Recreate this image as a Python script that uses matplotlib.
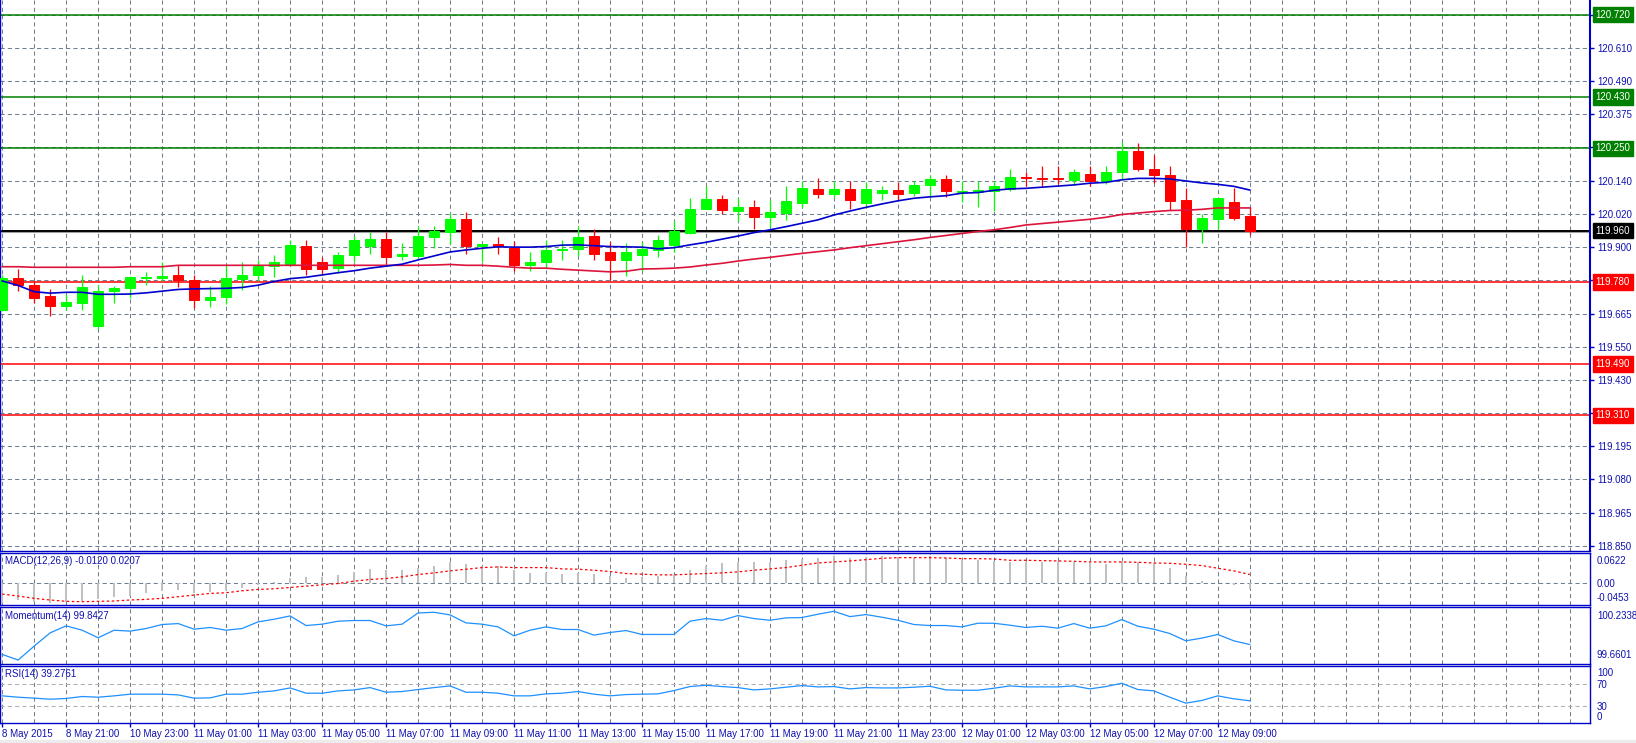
import matplotlib
matplotlib.use("Agg")
import matplotlib.pyplot as plt
from matplotlib.patches import Rectangle
import numpy as np

plt.rcParams['font.family'] = ['Liberation Sans', 'DejaVu Sans']

# ---------------- data ----------------
opens = [119.681, 119.792, 119.769, 119.730, 119.695, 119.707, 119.625, 119.749, 119.758, 119.794,
         119.794, 119.804, 119.787, 119.717, 119.727, 119.790, 119.804, 119.834, 119.839, 119.906,
         119.848, 119.828, 119.875, 119.906, 119.931, 119.872, 119.871, 119.938, 119.957, 120.001,
         119.906, 119.913, 119.900, 119.839, 119.848, 119.892, 119.897, 119.942, 119.885, 119.855,
         119.875, 119.892, 119.910, 119.953, 120.037, 120.072, 120.030, 120.044, 120.009, 120.022,
         120.059, 120.107, 120.089, 120.107, 120.058, 120.094, 120.102, 120.094, 120.119, 120.142,
         120.097, 120.096, 120.101, 120.106, 120.150, 120.147, 120.144, 120.139, 120.160, 120.135,
         120.167, 120.241, 120.177, 120.156, 120.068, 119.966, 120.001, 120.061, 120.012]
highs = [119.804, 119.825, 119.783, 119.755, 119.736, 119.804, 119.769, 119.765, 119.800, 119.816,
         119.849, 119.839, 119.804, 119.765, 119.836, 119.848, 119.857, 119.875, 119.927, 119.927,
         119.869, 119.886, 119.941, 119.957, 119.957, 119.918, 119.978, 119.977, 120.021, 120.025,
         119.914, 119.937, 119.925, 119.885, 119.926, 119.926, 119.977, 119.965, 119.919, 119.918,
         119.920, 119.945, 119.995, 120.074, 120.116, 120.086, 120.074, 120.067, 120.067, 120.117,
         120.135, 120.144, 120.135, 120.135, 120.130, 120.117, 120.130, 120.135, 120.156, 120.156,
         120.135, 120.135, 120.135, 120.177, 120.166, 120.188, 120.189, 120.177, 120.189, 120.188,
         120.271, 120.268, 120.227, 120.188, 120.109, 120.018, 120.075, 120.109, 120.043]
lows = [119.678, 119.749, 119.704, 119.658, 119.679, 119.679, 119.614, 119.707, 119.724, 119.767,
        119.781, 119.760, 119.687, 119.690, 119.701, 119.750, 119.781, 119.797, 119.838, 119.804,
        119.804, 119.810, 119.848, 119.878, 119.843, 119.857, 119.860, 119.900, 119.913, 119.879,
        119.849, 119.879, 119.819, 119.819, 119.830, 119.857, 119.871, 119.857, 119.787, 119.802,
        119.819, 119.869, 119.886, 119.947, 120.036, 120.018, 119.995, 119.966, 119.974, 119.998,
        120.039, 120.076, 120.080, 120.037, 120.045, 120.068, 120.067, 120.082, 120.080, 120.080,
        120.060, 120.045, 120.030, 120.100, 120.118, 120.118, 120.123, 120.119, 120.117, 120.123,
        120.139, 120.171, 120.129, 120.033, 119.902, 119.918, 119.966, 119.998, 119.943]
closes = [119.792, 119.767, 119.724, 119.696, 119.709, 119.762, 119.748, 119.758, 119.797, 119.798,
          119.801, 119.787, 119.717, 119.727, 119.794, 119.804, 119.837, 119.848, 119.910, 119.825,
          119.825, 119.875, 119.927, 119.931, 119.868, 119.879, 119.942, 119.959, 120.001, 119.907,
          119.913, 119.906, 119.839, 119.850, 119.892, 119.897, 119.938, 119.878, 119.855, 119.885,
          119.897, 119.927, 119.959, 120.037, 120.072, 120.033, 120.044, 120.009, 120.026, 120.065,
          120.110, 120.089, 120.107, 120.069, 120.107, 120.102, 120.090, 120.121, 120.142, 120.101,
          120.100, 120.103, 120.117, 120.149, 120.147, 120.143, 120.141, 120.167, 120.135, 120.167,
          120.241, 120.178, 120.156, 120.065, 119.966, 120.005, 120.075, 120.005, 119.960]

ma_fast = [119.783, 119.767, 119.745, 119.740, 119.743, 119.743, 119.736, 119.736, 119.737, 119.741,
           119.747, 119.753, 119.755, 119.756, 119.757, 119.760, 119.768, 119.781, 119.791, 119.796,
           119.804, 119.812, 119.819, 119.828, 119.835, 119.842, 119.857, 119.871, 119.885, 119.892,
           119.898, 119.903, 119.902, 119.902, 119.904, 119.909, 119.910, 119.907, 119.904, 119.903,
           119.902, 119.896, 119.900, 119.910, 119.919, 119.930, 119.941, 119.953, 119.963, 119.974,
           119.986, 119.998, 120.015, 120.029, 120.042, 120.054, 120.065, 120.074, 120.079, 120.083,
           120.092, 120.094, 120.102, 120.107, 120.109, 120.113, 120.117, 120.121, 120.127, 120.130,
           120.139, 120.144, 120.144, 120.142, 120.135, 120.128, 120.123, 120.116, 120.103]
ma_slow = [119.833, 119.833, 119.831, 119.831, 119.831, 119.831, 119.831, 119.831, 119.833, 119.833,
           119.833, 119.838, 119.838, 119.838, 119.838, 119.838, 119.838, 119.838, 119.838, 119.838,
           119.838, 119.838, 119.838, 119.838, 119.838, 119.838, 119.838, 119.839, 119.841, 119.838,
           119.838, 119.835, 119.831, 119.828, 119.828, 119.824, 119.821, 119.818, 119.815, 119.817,
           119.825, 119.826, 119.828, 119.832, 119.839, 119.845, 119.853, 119.860, 119.866, 119.873,
           119.880, 119.886, 119.892, 119.900, 119.907, 119.914, 119.921, 119.928, 119.936, 119.943,
           119.950, 119.957, 119.963, 119.971, 119.980, 119.985, 119.990, 119.995, 120.000, 120.007,
           120.017, 120.022, 120.027, 120.031, 120.032, 120.035, 120.040, 120.040, 120.040]

macd_main = [-0.0453, -0.0381, -0.0420, -0.0442, -0.0427, -0.0412, -0.0366, -0.0320, -0.0282, -0.0214,
             -0.0168, -0.0145, -0.0214, -0.0191, -0.0145, -0.0099, -0.0038, 0.0031, 0.0130, 0.0153,
             0.0153, 0.0198, 0.0259, 0.0328, 0.0305, 0.0305, 0.0366, 0.0412, 0.0488, 0.0458,
             0.0397, 0.0404, 0.0305, 0.0244, 0.0244, 0.0214, 0.0252, 0.0214, 0.0168, 0.0137,
             0.0153, 0.0183, 0.0191, 0.0305, 0.0412, 0.0465, 0.0488, 0.0488, 0.0488, 0.0534,
             0.0564, 0.0595, 0.0622, 0.0595, 0.0610, 0.0622, 0.0610, 0.0595, 0.0622, 0.0580,
             0.0549, 0.0534, 0.0519, 0.0503, 0.0503, 0.0503, 0.0503, 0.0503, 0.0481, 0.0458,
             0.0519, 0.0503, 0.0481, 0.0366, 0.0175, 0.0061, 0.0015, -0.0031, -0.0120]
macd_signal = [-0.0244, -0.0290, -0.0343, -0.0381, -0.0412, -0.0420, -0.0412, -0.0404, -0.0381, -0.0366,
               -0.0343, -0.0305, -0.0267, -0.0229, -0.0214, -0.0168, -0.0137, -0.0122, -0.0092, -0.0061,
               -0.0031, 0.0000, 0.0053, 0.0092, 0.0114, 0.0153, 0.0206, 0.0244, 0.0290, 0.0328,
               0.0366, 0.0381, 0.0366, 0.0366, 0.0366, 0.0336, 0.0328, 0.0305, 0.0275, 0.0229,
               0.0214, 0.0198, 0.0198, 0.0214, 0.0229, 0.0244, 0.0267, 0.0305, 0.0336, 0.0366,
               0.0420, 0.0473, 0.0496, 0.0519, 0.0549, 0.0580, 0.0595, 0.0595, 0.0595, 0.0587,
               0.0572, 0.0572, 0.0564, 0.0534, 0.0534, 0.0526, 0.0519, 0.0511, 0.0496, 0.0496,
               0.0496, 0.0488, 0.0473, 0.0465, 0.0442, 0.0412, 0.0351, 0.0290, 0.0207]

momentum = [99.726, 99.660, 99.824, 99.980, 100.062, 100.011, 99.922, 100.011, 100.000, 100.031,
            100.078, 100.089, 100.023, 100.043, 100.011, 100.031, 100.109, 100.140, 100.179, 100.066,
            100.082, 100.117, 100.125, 100.125, 100.062, 100.082, 100.214, 100.222, 100.191, 100.097,
            100.082, 100.050, 99.945, 100.011, 100.050, 100.019, 100.019, 99.953, 99.984, 100.007,
            99.961, 99.961, 99.961, 100.117, 100.148, 100.128, 100.183, 100.148, 100.128, 100.156,
            100.160, 100.199, 100.234, 100.171, 100.195, 100.164, 100.128, 100.078, 100.066, 100.066,
            100.050, 100.093, 100.093, 100.070, 100.043, 100.058, 100.035, 100.089, 100.035, 100.062,
            100.136, 100.058, 100.023, 99.972, 99.886, 99.918, 99.961, 99.886, 99.8427]

rsi = [48.4, 45.9, 44.1, 42.2, 43.5, 47.2, 45.9, 48.4, 51.5, 51.5,
       51.5, 50.2, 44.1, 44.7, 51.5, 51.5, 55.1, 57.6, 63.1, 53.3,
       53.3, 57.6, 59.4, 63.7, 55.1, 56.4, 60.1, 63.7, 66.8, 55.1,
       55.1, 53.3, 48.4, 48.4, 52.1, 53.3, 56.4, 51.5, 48.4, 50.8,
       51.5, 52.1, 58.2, 65.6, 68.0, 65.6, 63.7, 59.4, 61.3, 64.4,
       67.4, 65.0, 65.6, 61.3, 63.7, 63.1, 63.1, 64.4, 66.2, 59.4,
       58.8, 58.8, 62.5, 66.8, 65.0, 65.0, 65.0, 66.8, 61.3, 65.6,
       71.7, 60.1, 57.6, 45.9, 34.9, 39.8, 48.4, 42.9, 39.2761]

time_labels = ["8 May 2015", "8 May 21:00", "10 May 23:00", "11 May 01:00", "11 May 03:00",
               "11 May 05:00", "11 May 07:00", "11 May 09:00", "11 May 11:00", "11 May 13:00",
               "11 May 15:00", "11 May 17:00", "11 May 19:00", "11 May 21:00", "11 May 23:00",
               "12 May 01:00", "12 May 03:00", "12 May 05:00", "12 May 07:00", "12 May 09:00"]

price_ticks = [118.850, 118.967, 119.084, 119.201, 119.318, 119.434, 119.551, 119.668, 119.785,
               119.902, 120.019, 120.136, 120.253, 120.369, 120.486, 120.603, 120.720]
price_labels = ["118.850", "118.965", "119.080", "119.195", "119.310", "119.430", "119.550", "119.665",
                "119.780", "119.900", "120.020", "120.140", "120.250", "120.375", "120.490", "120.610",
                "120.720"]

levels_green = [120.720, 120.430, 120.250]
levels_red = [119.780, 119.490, 119.310]
level_black = 119.960

macd_ticks = [0.0622, 0.0, -0.0453]
macd_tick_labels = ["0.0622", "0.00", "-0.0453"]
mom_ticks = [100.2338, 99.6601]
mom_tick_labels = ["100.2338", "99.6601"]
rsi_ticks = [100, 70, 30, 0]
rsi_tick_labels = ["100", "70", "30", "0"]

# ---------------- styling ----------------
W, H = 1636, 743
AXIS_C = '#0000c8'
TEXT_C = '#1010b0'
GRID_C = '#708090'
DASH = (0, (4, 3))
RIGHT = 1590

fig = plt.figure(figsize=(W / 100, H / 100), dpi=100)
fig.patch.set_facecolor('white')
fig.patches.append(Rectangle((0, 0), 1, 3 / H, transform=fig.transFigure, color='#ececec', zorder=0))


def rect(top, bottom):
    return [0.0003, 1 - bottom / H, (RIGHT - 0.5) / W, (bottom - top) / H]


ax = fig.add_axes(rect(0, 550.5))
axm = fig.add_axes(rect(553, 605.3))
axo = fig.add_axes(rect(607.3, 663.5))
axr = fig.add_axes(rect(665.5, 722.7))

n = len(closes)
x = np.arange(n)
XL = (-0.106, 99.27)

for a in (ax, axm, axo, axr):
    a.set_xlim(*XL)
    a.set_facecolor('white')
    for s in a.spines.values():
        s.set_color(AXIS_C)
        s.set_linewidth(1.0)
    for gx in range(0, 100, 2):
        a.axvline(gx, color=GRID_C, lw=0.75, ls=DASH, zorder=0.5)
    a.yaxis.tick_right()

ax.spines['top'].set_visible(False)
ax.spines['right'].set_linewidth(1.5)

# ---- main price panel ----
ax.set_ylim(118.834, 120.772)
for p in price_ticks:
    ax.axhline(p, color=GRID_C, lw=0.75, ls=DASH, zorder=0.5)

for lv in levels_green:
    ax.axhline(lv, color='#008000', lw=1.1, zorder=2)
for lv in levels_red:
    ax.axhline(lv, color='#ff0000', lw=1.1, zorder=2)
ax.axhline(level_black - 0.0055, color='#a0a0a0', lw=0.8, zorder=2)
ax.axhline(level_black, color='#000000', lw=1.4, zorder=2)

o = np.array(opens)
c = np.array(closes)
cols = ['#00ff00' if cc >= oo else '#ff0000' for oo, cc in zip(o, c)]
ax.vlines(x, lows, highs, colors=cols, lw=0.9, zorder=3)
ax.bar(x, np.abs(c - o), bottom=np.minimum(o, c), width=0.62, color=cols,
       edgecolor=cols, linewidth=0.7, zorder=4)
ax.plot(x, ma_slow, color='#dc143c', lw=1.2, zorder=5)
ax.plot(x, ma_fast, color='#0000cd', lw=1.2, zorder=5)

ax.set_yticks(price_ticks, price_labels)
ax.tick_params(axis='y', direction='out', length=3, width=1, color=AXIS_C,
               labelcolor=TEXT_C, labelsize=7, pad=2)
ax.tick_params(axis='x', bottom=False, labelbottom=False)

for lv, colr in ([(v, '#008000') for v in levels_green] + [(v, '#ff0000') for v in levels_red]
                 + [(level_black, '#000000')]):
    ax.text(1.0035, lv, f'{lv:.3f}', transform=ax.get_yaxis_transform(), ha='left', va='center',
            color='white', fontsize=7, zorder=10, clip_on=False,
            bbox=dict(boxstyle='square,pad=0.28', fc=colr, ec=colr))

# ---- MACD ----
axm.set_ylim(-0.0503, 0.0702)
axm.axhline(0, color=GRID_C, lw=0.75, ls=DASH, zorder=1)
axm.bar(x, macd_main, width=0.16, color='#c0c0c0', zorder=3)
axm.plot(x, macd_signal, color='#ff0000', lw=0.9, ls=(0, (2, 2)), zorder=4)
axm.text(0.003, 0.85, f'MACD(12,26,9) {macd_main[-1]:.4f} {macd_signal[-1]:.4f}',
         transform=axm.transAxes, ha='left', va='center', fontsize=7, color=TEXT_C)

# ---- Momentum ----
axo.set_ylim(99.6191, 100.2806)
axo.plot(x, momentum, color='#1e90ff', lw=0.9, zorder=3)
axo.text(0.003, 0.845, f'Momentum(14) {momentum[-1]:.4f}',
         transform=axo.transAxes, ha='left', va='center', fontsize=7, color=TEXT_C)

# ---- RSI ----
axr.set_ylim(-1.3, 104.6)
for lv in (70, 30):
    axr.axhline(lv, color='#b0b0b0', lw=0.75, ls=DASH, zorder=1)
axr.plot(x, rsi, color='#1e90ff', lw=0.9, zorder=3)
axr.text(0.003, 0.85, f'RSI(14) {rsi[-1]:.4f}',
         transform=axr.transAxes, ha='left', va='center', fontsize=7, color=TEXT_C)

for a, tv, tl in ((axm, macd_ticks, macd_tick_labels), (axo, mom_ticks, mom_tick_labels),
                  (axr, rsi_ticks, rsi_tick_labels)):
    a.set_yticks(tv, tl)
    a.tick_params(axis='y', direction='out', length=0, labelcolor=TEXT_C, labelsize=7, pad=5)
    ticks = a.yaxis.get_major_ticks()
    vals = list(tv)
    top_i = int(np.argmax(vals))
    bot_i = int(np.argmin(vals))
    ticks[top_i].label2.set_verticalalignment('top')
    ticks[bot_i].label2.set_verticalalignment('bottom')

for a in (axm, axo):
    a.tick_params(axis='x', bottom=False, labelbottom=False)

axr.set_xticks(list(range(0, 4 * len(time_labels), 4)), time_labels)
axr.tick_params(axis='x', direction='out', length=3, width=1, color=AXIS_C,
                labelcolor=TEXT_C, labelsize=7, pad=1.5)
for lbl in axr.get_xticklabels():
    lbl.set_horizontalalignment('left')

fig.savefig('out.png', dpi=100, facecolor='white')
